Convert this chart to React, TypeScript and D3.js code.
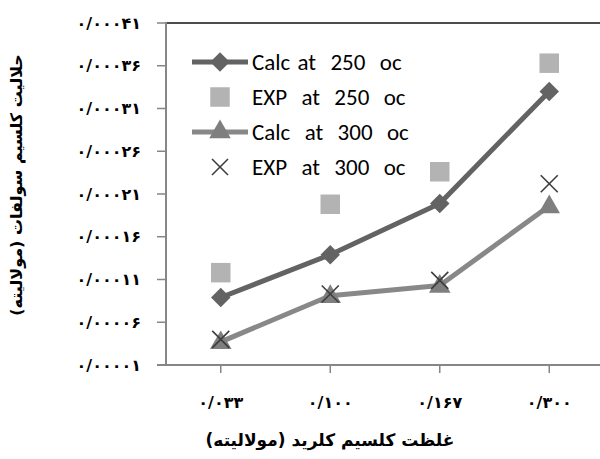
import React from 'react'
import * as d3 from 'd3'

// x categories (calcium chloride concentration, molal)
const categories = ['0.033', '0.100', '0.167', '0.300']
// calcium sulfate solubility (molal)
const calc250 = [0.000089, 0.000139, 0.000199, 0.00033]
const exp250 = [0.000118, 0.000198, 0.000236, 0.000363]
const calc300 = [0.000037, 0.000091, 0.000103, 0.000196]
const exp300 = [0.00004, 0.000093, 0.000109, 0.000222]
const yTicks = [0.00001, 0.00006, 0.00011, 0.00016, 0.00021, 0.00026, 0.00031, 0.00036, 0.00041]
const legendLabels = ['Calc at  250  oc', 'EXP  at  250  oc', 'Calc  at  300  oc', 'EXP  at  300  oc']

const persianDigits = '۰۱۲۳۴۵۶۷۸۹'
const toPersian = (s: string) =>
  s.replace(/[0-9]/g, d => persianDigits[+d]).replace('.', '/')

const W = 600
const H = 459
const margin = { left: 166, top: 23, right: -4, bottom: 94 }

const AXIS = '#868686'
const C250 = '#636363'
const C300 = '#888888'
const SQ = '#b3b3b3'
const XC = '#3d3d3d'
const FA = '"DejaVu Sans", sans-serif'

export default function App() {
  const x = d3.scaleBand<string>()
    .domain(categories)
    .range([margin.left, W - margin.right])
  const cx = (i: number) => (x(categories[i]) as number) + x.bandwidth() / 2
  const y = d3.scaleLinear()
    .domain([0.00001, 0.00041])
    .range([H - margin.bottom, margin.top])

  const line = d3.line<number>()
    .x((d, i) => cx(i))
    .y(d => y(d))

  const diamond = d3.symbol(d3.symbolSquare, 190)()
  const triangle = d3.symbol(d3.symbolTriangle, 200)()
  const square = d3.symbol(d3.symbolSquare, 380)()

  const xMark = (px: number, py: number, r: number, key: string) => (
    <g key={key} stroke={XC} strokeWidth={1.6}>
      <line x1={px - r} y1={py - r} x2={px + r} y2={py + r} />
      <line x1={px - r} y1={py + r} x2={px + r} y2={py - r} />
    </g>
  )

  const y0 = H - margin.bottom
  const legendRows = [62, 97, 132, 167]

  return (
    <svg width={W} height={H} style={{ position: 'absolute', left: 0, top: 0, background: '#fff' }}>
      {/* top border */}
      <line x1={margin.left} x2={W} y1={margin.top} y2={margin.top} stroke="#111" strokeWidth={1.5} />
      {/* y axis */}
      <line x1={margin.left} x2={margin.left} y1={margin.top - 1} y2={y0} stroke={AXIS} strokeWidth={2} />
      {yTicks.map(t => (
        <g key={t}>
          <line x1={margin.left - 9} x2={margin.left} y1={y(t)} y2={y(t)} stroke={AXIS} strokeWidth={1.5} />
          <text x={141} y={y(t)} dy="0.35em" textAnchor="end" fontFamily={FA} fontWeight="bold"
            fontSize={16} direction="ltr">{toPersian(t.toFixed(5))}</text>
        </g>
      ))}
      {/* x axis */}
      <line x1={margin.left - 9} x2={W} y1={y0} y2={y0} stroke={AXIS} strokeWidth={2} />
      {categories.map((c, i) => (
        <g key={c}>
          <line x1={cx(i)} x2={cx(i)} y1={y0} y2={y0 + 8} stroke={AXIS} strokeWidth={1.5} />
          <text x={cx(i)} y={402} dy="0.35em" textAnchor="middle" fontFamily={FA} fontWeight="bold"
            fontSize={16} direction="ltr">{toPersian(c)}</text>
        </g>
      ))}
      <text x={330} y={440} dy="0.35em" textAnchor="middle" fontFamily={FA} fontWeight="bold" fontSize={17}>
        غلظت کلسیم کلرید (مولالیته)
      </text>
      <text transform={`translate(16,${185}) rotate(-90)`} dy="0.35em" textAnchor="middle"
        fontFamily={FA} fontWeight="bold" fontSize={16}>
        حلالیت کلسیم سولفات (مولالیته)
      </text>

      {/* series */}
      <path d={line(calc250) as string} fill="none" stroke={C250} strokeWidth={5} strokeLinejoin="round" />
      <path d={line(calc300) as string} fill="none" stroke={C300} strokeWidth={5} strokeLinejoin="round" />
      {exp250.map((v, i) => (
        <path key={'s' + i} d={square as string} transform={`translate(${cx(i)},${y(v)})`} fill={SQ} />
      ))}
      {calc250.map((v, i) => (
        <path key={'d' + i} d={diamond as string} transform={`translate(${cx(i)},${y(v)}) rotate(45)`} fill={C250} />
      ))}
      {calc300.map((v, i) => (
        <path key={'t' + i} d={triangle as string} transform={`translate(${cx(i)},${y(v) + 1})`} fill="#7f7f7f" />
      ))}
      {exp300.map((v, i) => xMark(cx(i), y(v), 8.5, 'x' + i))}

      {/* legend */}
      <g fontFamily="Carlito, 'Open Sans', sans-serif" fontSize={23} fill="#000">
        <line x1={192} x2={248} y1={legendRows[0]} y2={legendRows[0]} stroke={C250} strokeWidth={5} />
        <path d={diamond as string} transform={`translate(220,${legendRows[0]}) rotate(45)`} fill={C250} />
        <path d={square as string} transform={`translate(220,${legendRows[1]})`} fill={SQ} />
        <line x1={192} x2={248} y1={legendRows[2]} y2={legendRows[2]} stroke={C300} strokeWidth={5} />
        <path d={triangle as string} transform={`translate(220,${legendRows[2]})`} fill="#7f7f7f" />
        {xMark(220, legendRows[3], 8, 'lx')}
        {legendLabels.map((l, i) => (
          <text key={l} x={252} y={legendRows[i]} dy="0.35em" xmlSpace="preserve" wordSpacing={2}
            style={{ whiteSpace: 'pre' }}>{l}</text>
        ))}
      </g>
    </svg>
  )
}
